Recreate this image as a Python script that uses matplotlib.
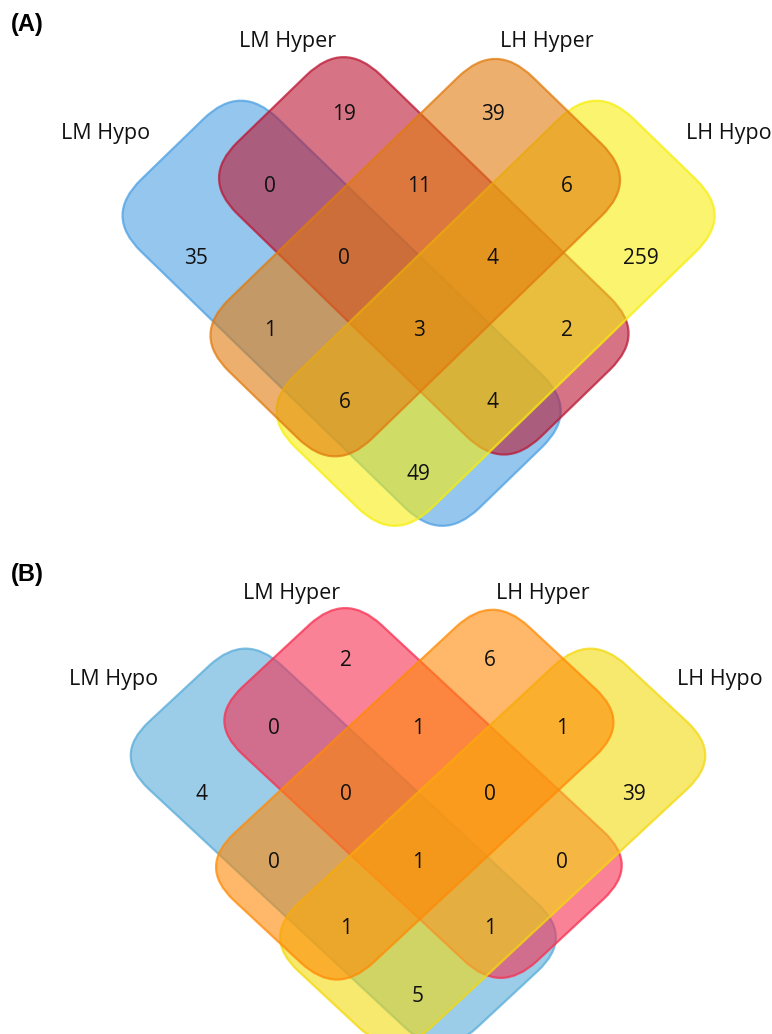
import matplotlib.pyplot as plt
from matplotlib.colors import to_rgba
from matplotlib.patches import FancyBboxPatch
from matplotlib.transforms import Affine2D

# set order: LM Hypo, LM Hyper, LH Hyper, LH Hypo
set_names = ["LM Hypo", "LM Hyper", "LH Hyper", "LH Hypo"]

# region membership codes (1 = in set), same order as set_names
regions = ["1000", "1100", "0100", "0010", "0110", "1110", "1010",
           "0011", "0111", "1111", "1011", "0001", "0101", "1101", "1001"]

counts_a = [35, 0, 19, 39, 11, 0, 1, 6, 4, 3, 6, 259, 2, 4, 49]
counts_b = [4, 0, 2, 6, 1, 0, 0, 1, 0, 1, 1, 39, 0, 1, 5]

colors_a = ["#4DA0E3", "#BB1734", "#E17B0D", "#F7EE0D"]
colors_b = ["#58ACD9", "#F72F50", "#FF8A05", "#F3D90D"]

# rounded boxes in lattice units: (i0, i1, j0, j1)
boxes = [(-0.915, 3.645, -0.325, 1.52),
         (-0.525, 3.565, 0.585, 2.515),
         (0.51, 2.44, -0.565, 3.525),
         (1.48, 3.325, -0.645, 3.915)]
rounding = 0.5
draw_order = [0, 1, 3, 2]

# where each pair of memberships falls on the diamond lattice
j_of = {"10": 0, "11": 1, "01": 2, "00": 3}
i_of = {"00": 0, "10": 1, "11": 2, "01": 3}

W, H = 772, 1034
fig = plt.figure(figsize=(W / 100, H / 100), dpi=100)
ax = fig.add_axes([0, 0, 1, 1])
ax.set_xlim(0, W)
ax.set_ylim(H, 0)
ax.axis("off")

font = ["Open Sans", "DejaVu Sans"]


def venn4(ax, ox, oy, sx, sy, counts, colors, label_pos):
    # lattice (i, j) -> pixel (x, y)
    lat = Affine2D.from_values(sx, sy, sx, -sy, ox, oy)
    tr = lat + ax.transData
    for k in draw_order:
        i0, i1, j0, j1 = boxes[k]
        c = colors[k]
        p = FancyBboxPatch((i0, j0), i1 - i0, j1 - j0,
                           boxstyle=f"round,pad=0,rounding_size={rounding}",
                           facecolor=to_rgba(c, 0.6), edgecolor=to_rgba(c, 0.75),
                           lw=1.6, transform=tr)
        ax.add_patch(p)
    for code, n in zip(regions, counts):
        i = i_of[code[2:]]
        j = j_of[code[:2]]
        x, y = lat.transform((i, j))
        ax.text(x, y, str(n), ha="center", va="center", fontsize=15,
                family=font, color="#111111")
    for name, (x, y) in zip(set_names, label_pos):
        ax.text(x, y, name, ha="center", va="center", fontsize=15.5,
                family=font, color="#111111")


venn4(ax, 196, 258, 74.2, 72, counts_a, colors_a,
      [(106, 133), (288, 42), (547, 42), (729, 133)])
venn4(ax, 202, 795, 72, 67, counts_b, colors_b,
      [(114, 679), (292, 593), (543, 593), (720, 679)])

ax.text(11, 25, "(A)", ha="left", va="center", fontsize=17,
        fontweight="bold", family="Liberation Sans")
ax.text(11, 575, "(B)", ha="left", va="center", fontsize=17,
        fontweight="bold", family="Liberation Sans")

fig.savefig("out.png", dpi=100)
